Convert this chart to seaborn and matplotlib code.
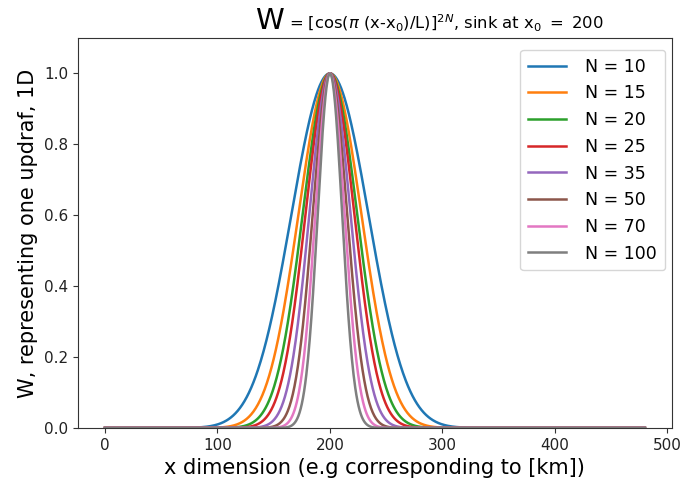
import numpy as np
import pandas as pd
import matplotlib
matplotlib.use("Agg")
import matplotlib.pyplot as plt
import seaborn as sns

# Parameters of the plotted function (from the title)
N_values = [10, 15, 20, 25, 35, 50, 70, 100]
x0 = 200
L = 480
x_start, x_end = 0, 480
colors = ["#1f77b4", "#ff7f0e", "#2ca02c", "#d62728", "#9467bd",
          "#8c564b", "#e377c2", "#7f7f7f"]

x = np.arange(x_start, x_end + 0.5, 0.5)
frames = []
for N in N_values:
    w = np.cos(np.pi * (x - x0) / L) ** (2 * N)
    frames.append(pd.DataFrame({"x": x, "W": w, "label": f"N = {N}"}))
df = pd.concat(frames, ignore_index=True)
labels = [f"N = {N}" for N in N_values]

fig = plt.figure(figsize=(6.87, 4.93), dpi=100)
ax = fig.add_axes([0.1135, 0.132, 0.8645, 0.791])
sns.lineplot(data=df, x="x", y="W", hue="label", hue_order=labels,
             palette=colors, linewidth=1.8, ax=ax)
ax.set_xlim(-24, 504)
ax.set_ylim(0, 1.1)
ax.set_xticks([0, 100, 200, 300, 400, 500])
ax.set_yticks([0.0, 0.2, 0.4, 0.6, 0.8, 1.0])
ax.tick_params(labelsize=11, colors="#333333", labelcolor="#222222")
ax.set_xlabel("x dimension (e.g corresponding to [km])", fontsize=15)
ax.set_ylabel("W, representing one updraf, 1D", fontsize=15)
for s in ax.spines.values():
    s.set_color("#333333")
ax.legend(loc="upper right", bbox_to_anchor=(665 / 687, 1 - 50 / 493),
          bbox_transform=fig.transFigure, borderaxespad=0,
          fontsize=12.5, handlelength=2.2,
          handletextpad=1.1, labelspacing=0.5, borderpad=0.45)

fig.text(255 / 687, 1 - 29 / 493, "W", fontsize=21, ha="left", va="baseline")
fig.text(289 / 687, 1 - 29 / 493,
         r"= [cos($\pi$ (x-x$_0$)/L)]$^{2N}$, sink at x$_0$ $=$ 200",
         fontsize=11.8, ha="left", va="baseline")

fig.savefig("out.png", dpi=100)
